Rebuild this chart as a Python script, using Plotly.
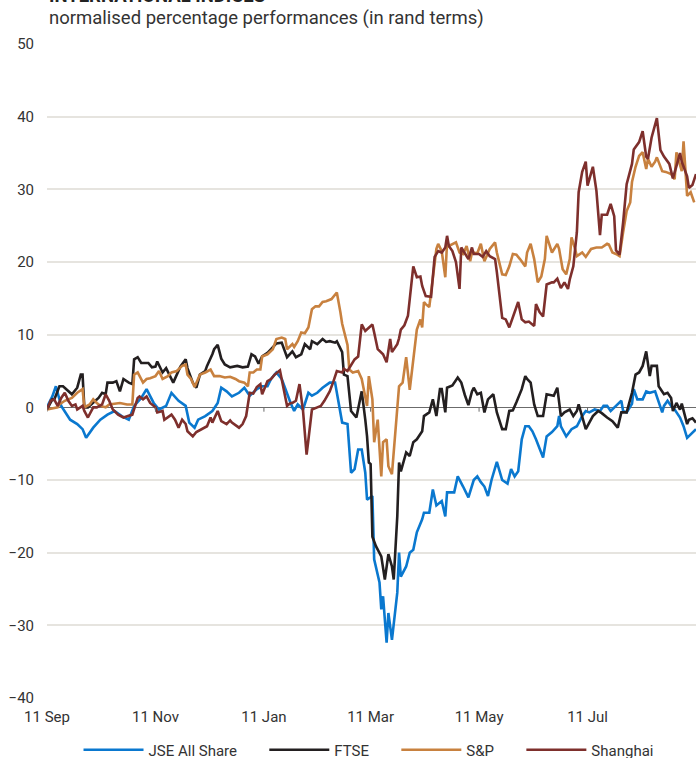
import pandas as pd
import plotly.graph_objects as go

start = pd.Timestamp("2019-09-11")

# days since 11 Sep 2019, and normalised % performance
jse_days = [0,3,5,8,13,17,20,22,26,30, 34,38,42,46,49,53,56,60,63,67, 70,74,78,80,83,85,89,93,96,98,
            101,104,108,111,114,118,121,124,126,129, 132,135,137,139,141,144,147,149,152,155,
            159,162,163,166,169,171,173,175,177,179, 180,183,184,187,188,189,191,192,194,197,
            198,199,202,204,206,208,211,212,215,217, 219,222,224,225,229,231,234,237,240,242,
            244,246,248,250,253,256,259,261,263,265, 267,269,271,273,275,277,279,281,284,287,
            288,289,292,295,298,301,303,305,308,311, 313,315,317,320,323,324,326,329,330,332,
            335,337,339,342,343,346,347,349,351,353, 356,358,360,363,365]
jse_vals = [0,1.5,2.9,0.2,-1.7,-2.3,-3.0,-4.2,-2.8,-1.7,
            -1.0,-0.5,-1.2,-1.7,0.2,1.3,2.5,0.6,-0.3,0.2,
            2.0,0.9,0.2,-2.1,-2.8,-1.7,-1.2,-0.5,0.6,2.7,
            2.2,1.5,2.0,2.7,1.6,2.5,2.9,2.9,3.9,4.8,
            3.9,1.8,0.6,-0.5,0.4,-0.3,2.0,1.6,2.0,2.7,
            3.4,3.4,2.0,-2.1,-2.3,-9.0,-8.5,-5.8,-5.8,-9.0,
            -12.7,-12.2,-20.9,-24.1,-27.8,-26.0,-32.4,-28.3,-32.0,-25.5,
            -20.0,-23.3,-21.9,-20.0,-19.6,-17.2,-15.4,-14.5,-14.5,-11.3,
            -13.5,-12.9,-15.0,-11.7,-11.7,-9.5,-10.9,-12.4,-10.0,-9.5,
            -10.3,-10.9,-12.2,-10.0,-7.5,-10.0,-10.5,-8.5,-9.5,-8.8,
            -4.4,-2.6,-2.6,-3.3,-4.4,-5.8,-6.9,-4.0,-3.4,-2.6,
            -1.2,-2.6,-4.0,-3.0,-2.6,-1.2,-0.5,-0.7,-0.3,-0.5,
            0.2,0.2,-0.5,0.2,0.9,-0.5,-0.7,0.5,2.5,1.1,
            1.1,2.2,2.0,2.2,1.5,-0.7,0.2,0.9,0.2,-0.3,
            -1.4,-2.6,-4.2,-3.5,-3.0]

ftse_days = [0,3,4,7,9,11,14,17,19,20, 21,23,26,29,31,33,34,37,39,41, 43,46,48,49,51,53,55,57,59,61,
             62,65,67,69,71,75,78,79,82,84, 86,89,90,93,94,96,98,100,103,107,
             110,113,115,117,119,121,124,126,129,132, 134,135,138,140,143,145,148,149,152,155,
             157,159,162,163,166,167,169,171,174,176, 177,179,180,181,182,183,185,188,190,192,
             194,195,197,198,199,202,204,206,208,211, 212,215,217,219,221,222,224,225,228,231,
             233,235,237,239,240,242,244,246,248,251, 253,256,258,260,262,264,267,269,270,272,
             274,276,279,281,284,285,287,289,291,294, 296,298,299,301,303,305,307,310,312,315,
             318,321,323,326,328,329,331,333,335,337, 339,340,343,344,347,349,351,352,354,356,
             357,360,361,363,365]
ftse_vals = [-0.3,1.1,1.0,2.9,2.9,2.5,1.8,2.7,4.5,4.5, 0,0,0.6,1.3,2.0,1.8,3.4,3.4,3.6,2.2,
             3.9,3.4,3.2,6.6,6.9,6.1,6.1,6.1,5.5,5.6, 6.3,4.8,5.4,4.5,3.4,5.6,6.6,5.4,3.4,2.7,
             4.5,5.0,5.7,7.3,8.0,8.6,6.7,5.9,5.5,5.7, 5.5,5.6,7.3,7.0,6.0,7.0,7.5,8.0,8.8,8.9,
             7.7,6.9,7.7,6.9,7.3,8.7,8.0,9.1,8.7,9.4, 9.0,9.1,8.9,9.1,7.6,4.5,4.3,-0.5,-1.4,1.1,
             2.2,-1.7,-4.0,-7.6,-7.8,-17.8,-19.1,-20.5,-23.7,-20.2,
             -21.9,-23.7,-15.0,-7.6,-8.8,-6.2,-6.7,-4.8,-4.4,-3.3,
             -1.2,-0.7,1.1,-1.2,2.5,2.5,-0.7,2.7,3.0,4.1,
             3.4,1.7,0.3,2.2,2.7,1.8,2.0,-0.7,1.1,1.8,
             -0.7,-3.0,-3.0,-0.5,-0.4,0.7,2.5,4.3,3.9,3.4,
             0.4,-1.2,-1.2,1.8,1.6,1.6,2.7,-1.2,-0.7,-0.3,
             -1.2,-0.5,0.4,-1.2,-3.0,-2.1,-1.2,-0.5,-0.8,-1.4,
             -1.9,-2.8,-0.7,-0.7,1.1,2.0,4.5,4.8,5.7,7.7,
             4.3,5.7,5.7,2.9,1.8,2.0,1.3,-0.5,0.6,-0.3,
             0.5,-2.3,-1.7,-1.5,-2.1]

sp_days = [0,6,7,10,14,16,17,20,21,24, 26,28,30,33,35,41,45,48,49,51, 54,56,58,61,63,65,68,70,73,76,
           78,79,81,83,86,89,92,94,97,100, 103,106,108,111,113,114,116,118,120,121,
           124,127,129,132,134,135,138,139,141,143, 145,147,149,151,153,155,157,160,162,163,
           165,166,169,170,172,175,177,179,180,181, 183,184,186,188,189,191,192,194,196,197,
           198,200,202,204,206,208,210,211,212,213, 215,217,219,220,222,224,225,226,228,230,
           232,234,236,238,239,242,244,246,249,252, 253,256,258,260,262,264,266,269,270,272,
           274,276,278,280,281,283,284,287,288,290, 292,294,295,297,298,301,303,306,309,312,
           315,316,318,320,322,324,326,328,329,331, 333,335,337,338,340,342,343,346,348,351,
           353,354,357,358,360,362,364]
sp_vals = [-0.3,0,0.4,0.9,1.3,1.8,2.0,2.5,0,0.4, 1.1,0.6,0.2,0,0.4,0.6,0.4,0.4,4.5,4.8,
           3.4,3.9,4.0,4.3,5.0,3.9,4.3,4.8,5.0,5.7, 5.9,4.5,3.9,2.8,4.5,4.8,5.2,4.3,4.3,4.1,
           4.2,3.9,3.6,3.4,2.9,4.8,4.8,5.2,5.2,7.0, 7.3,8.0,9.4,9.6,9.4,8.0,8.7,8.3,9.1,10.3,
           10.2,11.0,13.5,13.9,13.9,14.5,14.6,14.9,15.6,15.8,
           13.1,11.5,8.6,5.2,4.8,5.0,3.9,1.6,0.2,4.3,
           1.1,-4.8,-1.7,-9.5,-4.8,-4.4,-8.1,-9.2,-2.6,-0.3,
           2.9,3.4,6.9,2.4,7.0,10.7,12.1,11.0,14.5,14.2,
           13.8,18.0,21.8,22.5,21.5,17.9,22.7,22.2,22.5,22.7,
           21.3,21.1,22.2,20.1,21.3,21.2,22.5,20.1,21.8,22.7,
           21.3,18.3,18.2,19.4,21.1,21.0,20.4,19.4,21.3,22.5,
           20.4,17.2,18.0,20.4,23.6,22.2,21.3,22.5,21.8,19.0,
           18.3,20.4,23.4,21.8,20.8,21.3,20.7,21.8,22.0,22.0,
           22.5,22.4,21.3,21.1,20.8,24.1,27.0,28.2,31.0,33.1,
           34.6,35.1,32.8,34.2,33.1,33.8,34.4,32.5,32.4,32.1,
           31.4,35.1,32.5,36.6,29.1,29.6,28.2]

sh_days = [0,2,4,6,8,10,12,14,16,17, 20,21,23,26,28,31,33,35,37,40, 43,46,48,51,52,54,56,58,61,62,
           65,66,68,70,72,74,76,78,79,82, 84,87,90,92,93,96,98,101,103,104,
           107,108,110,112,114,116,118,120,121,124, 126,128,131,133,135,137,138,140,142,144,
           146,147,149,152,154,156,159,161,163,166, 167,169,171,173,175,177,179,180,183,184,
           186,189,191,193,194,197,198,199,201,203, 206,208,210,211,213,216,217,218,220,222,
           224,225,226,228,230,232,233,235,237,239, 240,243,245,247,249,252,253,256,258,260,
           262,265,267,269,271,273,274,275,277,279, 280,281,284,285,287,289,291,293,294,296,
           298,299,301,303,304,307,309,311,312,315, 317,319,320,322,324,326,329,330,333,335,
           337,338,340,343,345,347,350,352,354,356, 357,360,361,363,365]
sh_vals = [-0.3,0.9,1.1,0.2,1.3,2.0,0.9,0.2,0.4,-0.3, 0.2,-0.5,-1.4,0,0,0.4,1.8,0.9,-0.3,-1.0,
           -1.4,-1.2,-1.0,1.3,1.5,1.1,1.5,0.6,0,-0.7, -0.5,-1.7,-1.4,-1.0,-1.7,-2.8,-1.7,-2.3,-3.3,-4.0,
           -3.4,-3.0,-2.6,-1.4,-2.1,-0.5,-1.9,-2.3,-1.8,-2.1, -2.6,-2.8,-2.3,-1.2,2.0,1.9,2.8,3.2,1.8,3.6,
           3.9,4.5,5.1,2.5,0.2,0.6,0.6,0.9,3.2,-0.5, -6.5,-4.5,-0.3,0,0.2,0.9,2.2,3.5,5.0,4.8,
           5.3,5.0,5.9,6.6,7.0,11.4,10.5,10.7,11.4,10.3, 8.0,7.3,6.2,9.4,7.6,8.7,9.5,10.7,11.3,12.6,
           19.4,17.9,18.0,16.7,15.3,15.2,17.6,20.7,21.5,21.3, 22.0,23.6,22.2,21.5,20.0,16.3,22.0,21.1,20.4,22.0,
           21.1,21.1,20.7,21.5,20.8,20.4,18.6,12.3,12.1,11.0, 12.5,14.5,12.1,11.7,11.8,11.4,11.2,14.2,13.1,12.5,
           15.1,16.9,17.2,17.2,17.7,16.4,17.2,16.3,17.6,19.4, 24.1,29.6,32.4,33.8,30.5,33.1,29.8,23.7,26.5,26.5,
           28.0,26.3,21.6,21.0,25.4,30.7,33.5,35.5,36.5,38.0, 34.5,34.2,37.1,39.8,35.4,34.5,33.5,31.5,33.2,35.0,
           33.8,31.8,30.2,30.6,32.1]

series_names = ["JSE All Share", "FTSE", "S&P", "Shanghai"]
series_days = [jse_days, ftse_days, sp_days, sh_days]
series_vals = [jse_vals, ftse_vals, sp_vals, sh_vals]
series_colors = ["#0a78cf", "#231f20", "#c8813f", "#7e2f2c"]

tick_dates = ["2019-09-11", "2019-11-11", "2020-01-11", "2020-03-11", "2020-05-11", "2020-07-11"]
tick_labels = ["11 Sep", "11 Nov", "11 Jan", "11 Mar", "11 May", "11 Jul"]

fig = go.Figure()
for name, days, vals, col in zip(series_names, series_days, series_vals, series_colors):
    dates = start + pd.to_timedelta(days, unit="D")
    fig.add_trace(go.Scatter(x=dates, y=vals, mode="lines", name=name + "\u00a0" * 6,
                             line=dict(color=col, width=2.6)))

# small tick marks on the zero line
for d in tick_dates:
    fig.add_shape(type="line", xref="x", yref="y", x0=d, x1=d, y0=0, y1=-0.6,
                  line=dict(color="#6b6b6b", width=1))

font_family = "Roboto, Arial, sans-serif"
fig.update_layout(
    width=696, height=758,
    margin=dict(l=47, r=0, t=44, b=60),
    paper_bgcolor="white", plot_bgcolor="white",
    font=dict(family=font_family, size=15, color="#333333"),
    showlegend=True,
    legend=dict(orientation="h", x=0.546, xanchor="center", xref="container",
                y=(758 - 750) / 758, yanchor="middle", yref="container",
                itemwidth=60, font=dict(size=15, color="#333333"), traceorder="normal"),
    xaxis=dict(type="date", range=["2019-09-11", "2020-09-10"], tickvals=tick_dates,
               ticktext=tick_labels, showgrid=False, zeroline=False, showline=False,
               ticks="", ticklabelstandoff=8, tickfont=dict(size=15, color="#333333")),
    yaxis=dict(range=[-40, 50], dtick=10, tick0=0, showgrid=True, gridcolor="#e6e4df",
               gridwidth=1.5, zeroline=True, zerolinecolor="#6b6b6b", zerolinewidth=1.2,
               showline=False, ticks="", ticklabelstandoff=12,
               tickfont=dict(size=15, color="#333333")),
    annotations=[
        dict(text="<b>INTERNATIONAL INDICES</b>", xref="paper", yref="paper", x=0, y=1,
             xanchor="left", yanchor="middle", yshift=48, showarrow=False,
             font=dict(size=18.5, color="#222222")),
        dict(text="normalised percentage performances (in rand terms)", xref="paper",
             yref="paper", x=0, y=1, xanchor="left", yanchor="middle", yshift=26,
             showarrow=False, font=dict(size=18.5, color="#333333")),
    ],
)
fig.write_html("out.html", config={"displayModeBar": False},
               post_script="document.body.style.margin='0';document.body.style.overflow='hidden';")
